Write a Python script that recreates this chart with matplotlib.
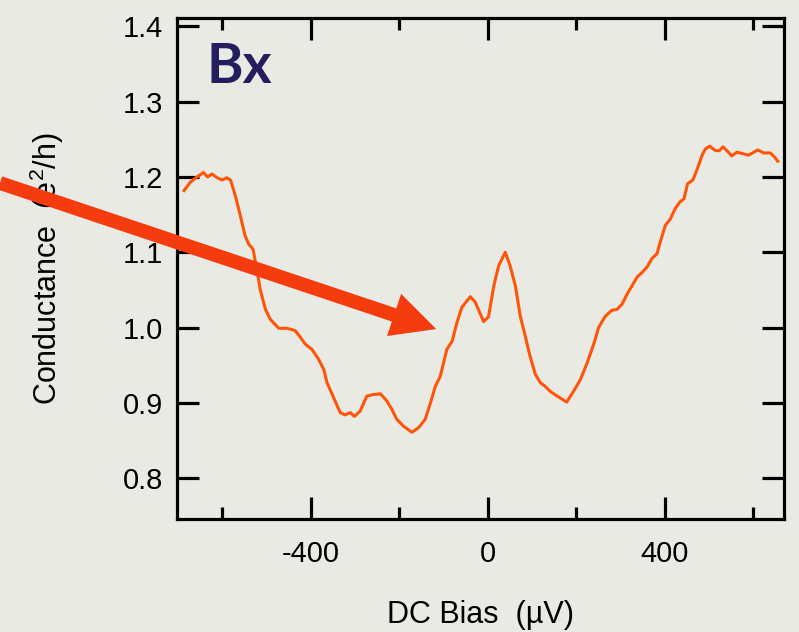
import matplotlib
matplotlib.use('Agg')
from matplotlib import pyplot as plt
from matplotlib.ticker import MultipleLocator


# conductance trace
bias = [-686, -672, -657, -642, -633, -623, -611, -600, -590, -581,
        -570, -559, -548, -540, -530, -523, -514, -502, -491, -472,
        -453, -435, -423, -412, -397, -382, -370, -363, -348, -333,
        -322, -310, -301, -288, -273, -258, -242, -227, -216, -205,
        -190, -171, -156, -141, -129, -118, -107, -92, -80, -69,
        -58, -39, -28, -9, 2, 14, 25, 40, 51, 63,
        74, 85, 96, 108, 119, 130, 142, 160, 179, 194,
        210, 225, 240, 251, 266, 281, 292, 304, 315, 326,
        338, 349, 360, 372, 383, 390, 402, 413, 424, 435,
        444, 452, 464, 473, 485, 492, 502, 515, 524, 532,
        541, 552, 564, 590, 611, 624, 639, 648, 656]
conductance = [1.182, 1.193, 1.200, 1.206, 1.200, 1.204, 1.199, 1.196, 1.199, 1.196,
               1.175, 1.149, 1.122, 1.111, 1.104, 1.082, 1.051, 1.024, 1.011, 0.999,
               0.999, 0.996, 0.987, 0.978, 0.971, 0.958, 0.944, 0.927, 0.907, 0.887,
               0.884, 0.887, 0.882, 0.889, 0.909, 0.911, 0.912, 0.902, 0.891, 0.878,
               0.869, 0.861, 0.867, 0.878, 0.900, 0.922, 0.935, 0.971, 0.982, 1.007,
               1.027, 1.041, 1.034, 1.008, 1.014, 1.055, 1.082, 1.100, 1.082, 1.055,
               1.015, 0.989, 0.962, 0.938, 0.927, 0.922, 0.915, 0.908, 0.901, 0.915,
               0.931, 0.953, 0.978, 1.000, 1.015, 1.023, 1.024, 1.031, 1.044, 1.055,
               1.067, 1.073, 1.080, 1.092, 1.098, 1.113, 1.136, 1.144, 1.158, 1.167,
               1.171, 1.191, 1.196, 1.209, 1.229, 1.237, 1.241, 1.235, 1.235, 1.240,
               1.235, 1.228, 1.233, 1.229, 1.236, 1.232, 1.232, 1.227, 1.221]

xticks = [-400, 0, 400]
yticks = [0.8, 0.9, 1.0, 1.1, 1.2, 1.3, 1.4]
arrow_tip = (-116, 0.998)

bg = '#e9eae4'
plt.rcParams['font.family'] = ['Liberation Sans', 'DejaVu Sans']
plt.rcParams['mathtext.fontset'] = 'custom'
plt.rcParams['mathtext.rm'] = 'Liberation Sans'
plt.rcParams['mathtext.it'] = 'Liberation Sans:italic'

fig = plt.figure(figsize=(7.99, 6.32), dpi=100, facecolor=bg)
ax = fig.add_axes([0.2215, 0.1788, 0.7597, 0.7927])
ax.set_facecolor(bg)

ax.plot(bias, conductance, color='#ff5508', lw=2.2, zorder=2)

ax.set_xlim(-702, 670)
ax.set_ylim(0.7457, 1.4112)
ax.set_xticks(xticks)
ax.set_xticklabels([str(t) for t in xticks])
ax.xaxis.set_minor_locator(MultipleLocator(200))
ax.set_yticks(yticks)
ax.set_yticklabels(['%.1f' % t for t in yticks])

for s in ax.spines.values():
    s.set_linewidth(2.3)
ax.tick_params(which='both', direction='in', top=True, right=True, width=2.3, colors='black')
ax.tick_params(which='major', length=16)
ax.tick_params(which='minor', length=8.6)
ax.tick_params(axis='x', which='major', pad=15, labelsize=21)
ax.tick_params(axis='y', which='major', pad=10, labelsize=21)

ax.set_xlabel('DC Bias  (µV)', fontsize=22)
ax.xaxis.set_label_coords(0.5, -0.162)
ax.set_ylabel('Conductance  (e$^{2}$/h)', fontsize=22)
ax.yaxis.set_label_coords(-0.183, 0.5)

ax.text(0.049, 0.871, 'Bx', transform=ax.transAxes, fontsize=40,
        family='Lato', fontweight='bold', color='#241d5e', va='baseline')

# big arrow pointing at the dip, tail starts at the left edge of the figure
ax.annotate('', xy=arrow_tip, xycoords='data', xytext=(0, 449), textcoords='figure pixels',
            arrowprops=dict(arrowstyle='simple,head_length=3.2,head_width=3.2,tail_width=1.0',
                            mutation_scale=10, fc='#f53c0e', ec='none', lw=0,
                            shrinkA=0, shrinkB=0, clip_on=False),
            annotation_clip=False, zorder=5)

fig.savefig('out.png', dpi=100, facecolor=bg)
